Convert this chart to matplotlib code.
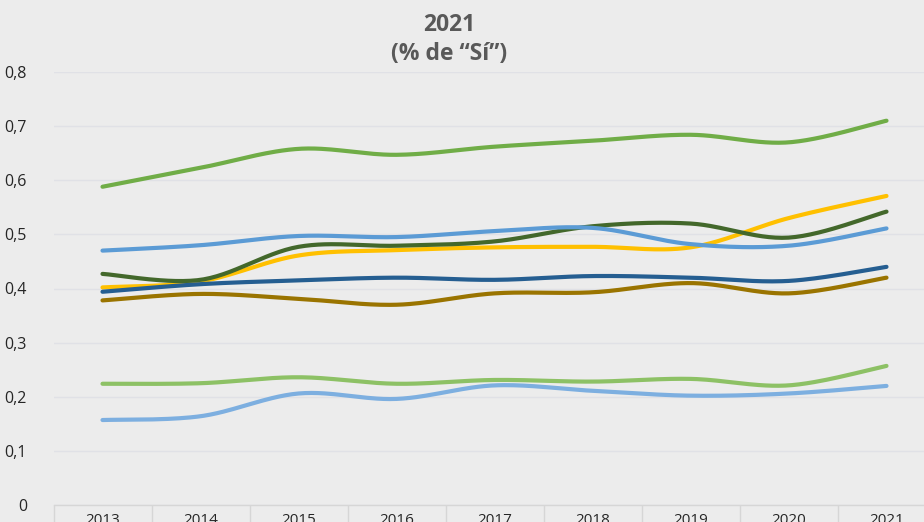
import numpy as np
import matplotlib
matplotlib.use("Agg")
import matplotlib.pyplot as plt
from matplotlib.ticker import FuncFormatter, MultipleLocator, FixedLocator

# Years on the category axis
years = ["2013", "2014", "2015", "2016", "2017", "2018", "2019", "2020", "2021"]

# Share of "Sí" answers per series
serie_verde = [0.588, 0.623, 0.658, 0.647, 0.662, 0.673, 0.684, 0.670, 0.710]
serie_azul_claro = [0.470, 0.480, 0.497, 0.495, 0.506, 0.512, 0.482, 0.479, 0.511]
serie_verde_oscuro = [0.427, 0.416, 0.477, 0.479, 0.487, 0.515, 0.520, 0.494, 0.542]
serie_amarilla = [0.402, 0.413, 0.461, 0.471, 0.476, 0.477, 0.476, 0.530, 0.571]
serie_azul_oscuro = [0.394, 0.408, 0.415, 0.420, 0.416, 0.423, 0.420, 0.414, 0.440]
serie_marron = [0.378, 0.390, 0.381, 0.370, 0.391, 0.393, 0.410, 0.391, 0.420]
serie_verde_suave = [0.224, 0.225, 0.236, 0.224, 0.231, 0.228, 0.233, 0.221, 0.257]
serie_azul_suave = [0.157, 0.164, 0.206, 0.196, 0.221, 0.211, 0.202, 0.206, 0.220]

series = [
    (serie_azul_suave, "#7DAFE0"),
    (serie_verde_suave, "#8DC165"),
    (serie_marron, "#9A7400"),
    (serie_amarilla, "#FFC000"),
    (serie_verde_oscuro, "#43682B"),
    (serie_azul_oscuro, "#255E91"),
    (serie_azul_claro, "#5B9BD5"),
    (serie_verde, "#70AD47"),
]


def smooth(x, y, n=30):
    """Catmull-Rom style smoothing through every point (Excel 'smoothed line')."""
    x = np.asarray(x, float)
    y = np.asarray(y, float)
    xs, ys = [], []
    for i in range(len(x) - 1):
        p0 = (x[i - 1], y[i - 1]) if i > 0 else (x[i], y[i])
        p1 = (x[i], y[i])
        p2 = (x[i + 1], y[i + 1])
        p3 = (x[i + 2], y[i + 2]) if i + 2 < len(x) else (x[i + 1], y[i + 1])
        c1 = (p1[0] + (p2[0] - p0[0]) / 6, p1[1] + (p2[1] - p0[1]) / 6)
        c2 = (p2[0] - (p3[0] - p1[0]) / 6, p2[1] - (p3[1] - p1[1]) / 6)
        t = np.linspace(0, 1, n, endpoint=(i == len(x) - 2))
        b0 = (1 - t) ** 3
        b1 = 3 * (1 - t) ** 2 * t
        b2 = 3 * (1 - t) * t ** 2
        b3 = t ** 3
        xs.append(b0 * p1[0] + b1 * c1[0] + b2 * c2[0] + b3 * p2[0])
        ys.append(b0 * p1[1] + b1 * c1[1] + b2 * c2[1] + b3 * p2[1])
    return np.concatenate(xs), np.concatenate(ys)


W, H = 924, 522
bg = "#ECECEC"
fig = plt.figure(figsize=(W / 100, H / 100), dpi=100, facecolor=bg)
ax = fig.add_axes([53.5 / W, 17 / H, 882 / W, 433 / H], facecolor=bg)

idx = np.arange(len(years))
for values, color in series:
    sx, sy = smooth(idx, values)
    ax.plot(sx, sy, color=color, lw=3.0, solid_capstyle="round", zorder=3)

ax.set_xlim(-0.5, len(years) - 0.5)
ax.set_ylim(0, 0.8)
ax.yaxis.set_major_locator(MultipleLocator(0.1))
ax.yaxis.set_major_formatter(
    FuncFormatter(lambda v, p: "0" if abs(v) < 1e-9 else f"{v:.1f}".replace(".", ","))
)
ax.grid(axis="y", color="#E0E1E6", lw=1.0, zorder=0)
ax.set_axisbelow(True)

ax.set_xticks(idx)
ax.set_xticklabels(years)
ax.xaxis.set_minor_locator(FixedLocator(np.arange(-0.5, len(years), 1.0)))
ax.tick_params(axis="x", which="major", length=0, pad=6, labelsize=11, colors="#262626")
ax.tick_params(axis="x", which="minor", length=14, width=1, color="#D6D6D6", direction="out")
ax.tick_params(axis="y", length=0, pad=19, labelsize=11.5, colors="#262626")

for s in ["top", "right", "left"]:
    ax.spines[s].set_visible(False)
ax.spines["bottom"].set_color("#D6D6D6")
ax.spines["bottom"].set_linewidth(1)

for lbl in ax.get_xticklabels() + ax.get_yticklabels():
    lbl.set_family(["Open Sans", "DejaVu Sans"])

fig.text(449 / W, 1 - 39.5 / H, "2021\n(% de “Sí”)", ha="center", va="center",
         fontsize=16.5, fontweight="bold", color="#595959", linespacing=1.3,
         family=["Open Sans", "DejaVu Sans"])

fig.savefig("out.png", dpi=100, facecolor=bg)
